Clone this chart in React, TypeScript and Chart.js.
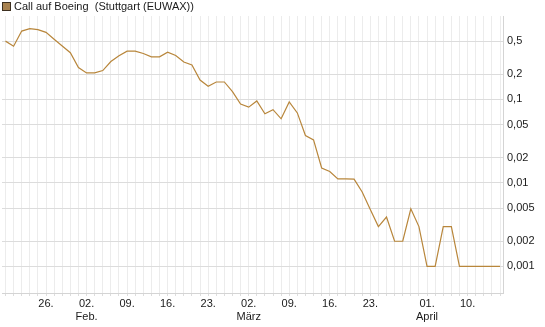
import React, { useEffect, useRef } from 'react';
import { Chart, registerables } from 'chart.js';

Chart.register(...registerables);

const seriesLabel = 'Call auf Boeing  (Stuttgart (EUWAX))';

// trading days (Stuttgart), one point per day
const dates = [
  '2015-01-19', '2015-01-20', '2015-01-21', '2015-01-22', '2015-01-23',
  '2015-01-26', '2015-01-27', '2015-01-28', '2015-01-29', '2015-01-30',
  '2015-02-02', '2015-02-03', '2015-02-04', '2015-02-05', '2015-02-06',
  '2015-02-09', '2015-02-10', '2015-02-11', '2015-02-12', '2015-02-13',
  '2015-02-16', '2015-02-17', '2015-02-18', '2015-02-19', '2015-02-20',
  '2015-02-23', '2015-02-24', '2015-02-25', '2015-02-26', '2015-02-27',
  '2015-03-02', '2015-03-03', '2015-03-04', '2015-03-05', '2015-03-06',
  '2015-03-09', '2015-03-10', '2015-03-11', '2015-03-12', '2015-03-13',
  '2015-03-16', '2015-03-17', '2015-03-18', '2015-03-19', '2015-03-20',
  '2015-03-23', '2015-03-24', '2015-03-25', '2015-03-26', '2015-03-27',
  '2015-03-30', '2015-03-31', '2015-04-01', '2015-04-02', '2015-04-07',
  '2015-04-08', '2015-04-09', '2015-04-10', '2015-04-13', '2015-04-14',
  '2015-04-15', '2015-04-16',
];

const prices = [
  0.5, 0.435, 0.66, 0.705, 0.686,
  0.636, 0.527, 0.437, 0.363, 0.241,
  0.208, 0.208, 0.222, 0.285, 0.334,
  0.379, 0.379, 0.355, 0.324, 0.324,
  0.369, 0.336, 0.281, 0.259, 0.171,
  0.144, 0.162, 0.162, 0.124, 0.088,
  0.081, 0.096, 0.0675, 0.0754, 0.0587,
  0.0933, 0.069, 0.037, 0.0328, 0.0151,
  0.0137, 0.0112, 0.0112, 0.0111, 0.0078,
  0.0048, 0.003, 0.0039, 0.002, 0.002,
  0.0049, 0.003, 0.001, 0.001, 0.003,
  0.003, 0.001, 0.001, 0.001, 0.001,
  0.001, 0.001,
];

const xTickDates = [
  '2015-01-26', '2015-02-02', '2015-02-09', '2015-02-16', '2015-02-23',
  '2015-03-02', '2015-03-09', '2015-03-16', '2015-03-23', '2015-04-01',
  '2015-04-10',
];

const monthNames = ['Jan.', 'Feb.', 'März', 'April', 'Mai', 'Juni', 'Juli', 'Aug.', 'Sep.', 'Okt.', 'Nov.', 'Dez.'];

const yTickValues = [0.001, 0.002, 0.005, 0.01, 0.02, 0.05, 0.1, 0.2, 0.5];

const FONT = '"Liberation Sans", Arial, Helvetica, sans-serif';
const LINE_COLOR = '#b8863b';

function buildTickLabels(): Record<number, string | string[]> {
  const out: Record<number, string | string[]> = {};
  let prevMonth: number | null = null;
  xTickDates.forEach((d) => {
    const idx = dates.indexOf(d);
    if (idx < 0) return;
    const month = Number(d.slice(5, 7)) - 1;
    const day = d.slice(8, 10) + '.';
    if (prevMonth !== null && month !== prevMonth) {
      out[idx] = [day, monthNames[month]];
    } else {
      out[idx] = day;
    }
    prevMonth = month;
  });
  return out;
}

const legendPlugin = {
  id: 'topLegend',
  afterDraw(chart: any) {
    const ctx = chart.ctx as CanvasRenderingContext2D;
    ctx.save();
    ctx.fillStyle = '#a88250';
    ctx.fillRect(3, 3, 7, 7);
    ctx.strokeStyle = '#3d3020';
    ctx.lineWidth = 1;
    ctx.strokeRect(2.5, 2.5, 8, 8);
    ctx.font = '11px ' + FONT;
    ctx.fillStyle = '#1a1a1a';
    ctx.textBaseline = 'middle';
    ctx.textAlign = 'left';
    ctx.fillText(seriesLabel, 14, 7);
    ctx.restore();
  },
};

export default function App() {
  const ref = useRef<HTMLCanvasElement | null>(null);

  useEffect(() => {
    document.body.style.margin = '0';
    const canvas = ref.current;
    if (!canvas) return;
    const tickLabels = buildTickLabels();
    const chart = new Chart(canvas, {
      type: 'line',
      data: {
        datasets: [
          {
            label: seriesLabel,
            data: prices.map((p, i) => ({ x: i, y: p })),
            borderColor: LINE_COLOR,
            backgroundColor: LINE_COLOR,
            borderWidth: 1.2,
            pointRadius: 0,
            tension: 0,
            fill: false,
          },
        ],
      },
      options: {
        animation: false,
        responsive: false,
        maintainAspectRatio: false,
        layout: { padding: { left: 2, top: 16, right: 0, bottom: 0 } },
        plugins: {
          legend: { display: false },
          tooltip: { enabled: false },
        },
        scales: {
          x: {
            type: 'linear',
            min: -0.43,
            max: 61.37,
            afterBuildTicks: (s: any) => {
              s.ticks = dates.map((_, i) => ({ value: i }));
            },
            afterFit: (s: any) => {
              s.height = 34;
            },
            grid: {
              color: '#ececec',
              lineWidth: 1,
              drawTicks: true,
              tickLength: 3,
              tickColor: '#dddddd',
            },
            border: { color: '#d4d4d4' },
            ticks: {
              autoSkip: false,
              maxRotation: 0,
              minRotation: 0,
              padding: 2,
              color: '#1a1a1a',
              font: { family: FONT, size: 11, lineHeight: 1.15 },
              callback: (v: any) => {
                const l = tickLabels[Math.round(Number(v))];
                return l === undefined ? '' : l;
              },
            },
          },
          y: {
            type: 'logarithmic',
            position: 'right',
            min: 0.00048,
            max: 1,
            afterBuildTicks: (s: any) => {
              s.ticks = yTickValues.map((v) => ({ value: v }));
            },
            afterFit: (s: any) => {
              s.width = 42;
            },
            grid: { color: '#dcdcdc', drawTicks: false },
            border: { color: '#d4d4d4' },
            ticks: {
              padding: 4,
              color: '#1a1a1a',
              font: { family: FONT, size: 11 },
              callback: (v: any) => String(Number(v)).replace('.', ','),
            },
          },
        },
      },
      plugins: [legendPlugin],
    });
    return () => chart.destroy();
  }, []);

  return (
    <div style={{ width: 545, height: 327 }}>
      <canvas ref={ref} width={545} height={327} style={{ display: 'block' }} />
    </div>
  );
}
